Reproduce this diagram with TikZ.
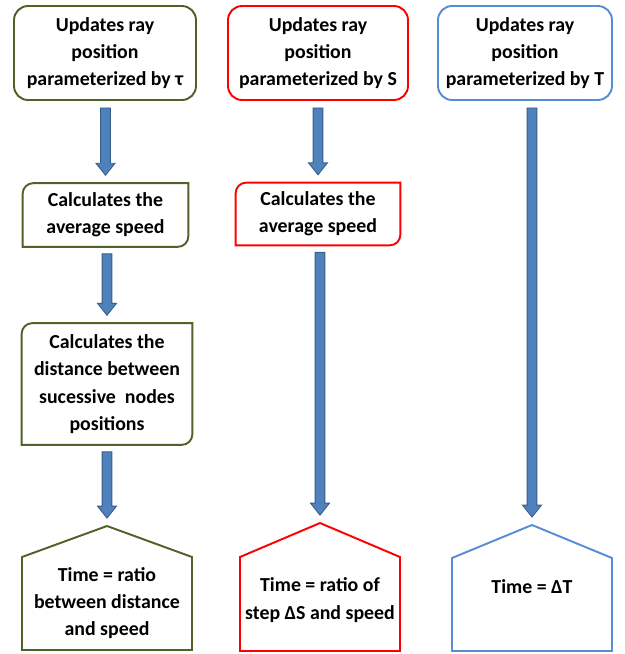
\documentclass[tikz,border=0pt]{standalone}
\usepackage{fontspec}
\setmainfont{Carlito}
\usepackage{xcolor}
\usepackage{tikz}
\usetikzlibrary{positioning,calc}

\definecolor{boxgreen}{HTML}{4F6228}
\definecolor{boxred}{HTML}{FF0000}
\definecolor{boxblue}{HTML}{558ED5}
\definecolor{arrowfill}{HTML}{4F81BD}
\definecolor{arrowline}{HTML}{385D8A}

% fat down arrow between two anchors (x taken from the target)
\newcommand{\blockarrow}[2]{%
  \draw[blockarrow] let \p1=(#1), \p2=(#2) in
    (\x2-2.8pt,\y1-4pt) -- (\x2+2.8pt,\y1-4pt) -- (\x2+2.8pt,\y2+11.3pt)
    -- (\x2+5.4pt,\y2+11.3pt) -- (\x2,\y2+4.5pt) -- (\x2-5.4pt,\y2+11.3pt)
    -- (\x2-2.8pt,\y2+11.3pt) -- cycle;}
% box outline with rounded NW and SE corners
\newcommand{\diagoutline}[2]{%
  \draw[#2, line width=1.1pt] ([xshift=6pt]#1.north west) -- (#1.north east)
    -- ([yshift=6pt]#1.south east) arc[start angle=0, end angle=-90, radius=6pt]
    -- (#1.south west) -- ([yshift=-6pt]#1.north west)
    arc[start angle=180, end angle=90, radius=6pt] -- cycle;}

\begin{document}
\begin{tikzpicture}[
    x=0.02cm, y=-0.02cm,
    every node/.style={font=\bfseries\fontsize{11.3}{15.6}\selectfont, align=center},
    topbox/.style={rectangle, draw, rounded corners=8pt, line width=1.1pt, minimum width=3.5cm, minimum height=1.88cm},
    midbox/.style={rectangle, minimum height=1.26cm},
    blockarrow/.style={fill=arrowfill, draw=arrowline, line width=0.5pt},
    house/.style={line width=1.1pt}
]
    \useasboundingbox (0,0) rectangle (625,654);

    % column tau
    \node[topbox, draw=boxgreen, minimum width=3.64cm] (tau) at (105,53) {Updates ray\\position\\parameterized by τ};
    \node[midbox, minimum width=3.3cm] (tauspeed) at (105.5,215) {Calculates the\\average speed};
    \node[midbox, minimum width=3.4cm, minimum height=2.42cm] (taudist) at (107,384) {Calculates the\\distance between\\sucessive~ nodes\\positions};
    \coordinate (tauapex) at (107,526);
    \node (tautime) at (107,603) {Time = ratio\\between distance\\and speed};
    \diagoutline{tauspeed}{boxgreen}
    \diagoutline{taudist}{boxgreen}
    \draw[house, boxgreen] (tauapex) -- (192,557) -- (192,650) -- (22,650) -- (22,557) -- cycle;

    \blockarrow{tau.south}{tauspeed.north}
    \blockarrow{tauspeed.south}{taudist.north}
    \blockarrow{taudist.south}{tauapex}

    % column S
    \node[topbox, draw=boxred, minimum width=3.6cm] (s) at (318,53) {Updates ray\\position\\parameterized by S};
    \node[midbox, minimum width=3.28cm, minimum height=1.24cm] (sspeed) at (318,214) {Calculates the\\average speed};
    \coordinate (sapex) at (320,523);
    \node (stime) at (320,600) {Time = ratio of\\step ΔS and speed};
    \diagoutline{sspeed}{boxred}
    \draw[house, boxred] (sapex) -- (400,557) -- (400,651) -- (240,651) -- (240,557) -- cycle;

    \blockarrow{s.south}{sspeed.north}
    \blockarrow{sspeed.south}{sapex}

    % column T
    \node[topbox, draw=boxblue, minimum width=3.48cm] (t) at (525,53) {Updates ray\\position\\parameterized by T};
    \coordinate (tapex) at (532,525);
    \node (ttime) at (532,587) {Time = ΔT};
    \draw[house, boxblue] (tapex) -- (612,558) -- (612,651) -- (452,651) -- (452,558) -- cycle;

    \blockarrow{t.south}{tapex}
\end{tikzpicture}
\end{document}
